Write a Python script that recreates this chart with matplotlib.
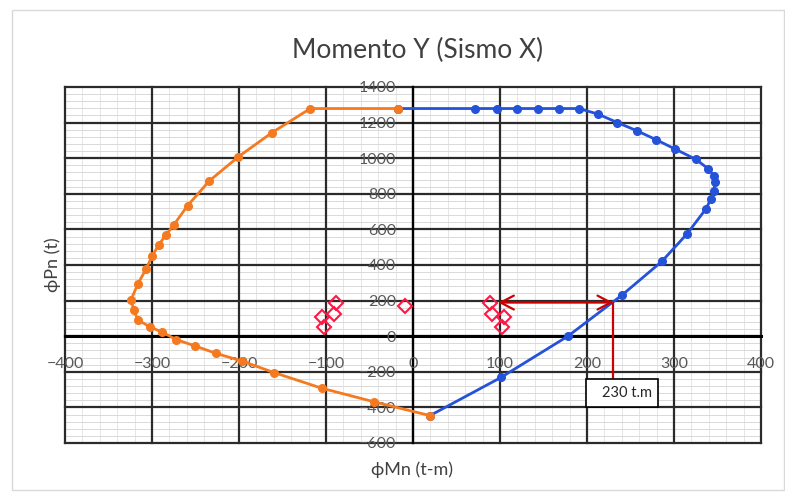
import matplotlib
matplotlib.use("Agg")
import matplotlib.pyplot as plt
from matplotlib.patches import Rectangle
from matplotlib.ticker import MultipleLocator

plt.rcParams['font.family'] = ['Lato', 'DejaVu Sans']

# ---- data ----
blue_m = [-17, 71, 96, 120, 144, 168, 191, 213, 235, 257, 279, 301, 325, 339, 346,
          347, 346, 342, 337, 315, 286, 240, 178, 101, 19.5]
blue_p = [1279, 1279, 1279, 1279, 1279, 1279, 1279, 1247, 1200, 1155, 1105, 1052, 994, 942, 900,
          865, 816, 768, 717, 575, 420, 230, 0, -232, -446]

orange_m = [-17, -118, -162, -201, -234, -259, -275, -284, -292, -300, -307, -316, -324,
            -321, -316, -302, -289, -272, -251, -226, -197, -160, -105, -44.5, 19.5]
orange_p = [1279, 1279, 1144, 1007, 873, 734, 625, 569, 515, 449, 376, 296, 206,
            146, 90, 52, 24, -19, -54, -97, -139, -204, -292, -369, -446]

demand_m = [-88, -91, -105, -102, -9, 88, 91, 105, 102]
demand_p = [184, 124, 109, 49, 169, 184, 124, 109, 49]

arrow_y = 189
arrow_x_start = 98
arrow_x_end = 230
box_label = "230 t.m"

title = "Momento Y (Sismo X)"
xlabel = "\u03d5Mn (t-m)"
ylabel = "\u03d5Pn (t)"
xticks = [-400, -300, -200, -100, 0, 100, 200, 300, 400]
yticks = [-600, -400, -200, 0, 200, 400, 600, 800, 1000, 1200, 1400]
xminor_step = 20
yminor_step = 40

# ---- figure ----
fig = plt.figure(figsize=(7.85, 4.92), dpi=100)
fig.patch.set_facecolor('white')
fig.add_artist(Rectangle((12/785, 2/492), 772/785, 480/492, transform=fig.transFigure,
                         fill=False, edgecolor='#d9d9d9', lw=1))

ax = fig.add_axes([65/785, 1-443/492, 696/785, 356/492])
ax.set_xlim(xticks[0], xticks[-1])
ax.set_ylim(yticks[0], yticks[-1])
ax.set_xticks(xticks)
ax.set_yticks(yticks)

# minor grid (faint)
xm = xticks[0] + xminor_step
while xm < xticks[-1]:
    ax.axvline(xm, color='#e6e6e6', lw=0.7, zorder=0.2)
    xm += xminor_step
ym = yticks[0] + yminor_step
while ym < yticks[-1]:
    ax.axhline(ym, color='#d9d9d9', lw=0.7, zorder=0.2)
    ym += yminor_step
# major grid
for xv in xticks:
    ax.axvline(xv, color='#2b2b2b', lw=1.6, zorder=0.5, clip_on=False)
for yv in yticks:
    ax.axhline(yv, color='#2b2b2b', lw=1.6, zorder=0.5, clip_on=False)

for s in ['top', 'right']:
    ax.spines[s].set_visible(False)
ax.spines['left'].set_position(('data', 0))
ax.spines['bottom'].set_position(('data', 0))
ax.spines['left'].set_color('#000000')
ax.spines['bottom'].set_color('#000000')
ax.spines['left'].set_linewidth(1.6)
ax.spines['bottom'].set_linewidth(2.2)
ax.spines['left'].set_zorder(0.6)
ax.spines['bottom'].set_zorder(0.6)

ax.tick_params(which='both', length=0)
ax.tick_params(axis='x', pad=15, labelsize=11.5, labelcolor='#595959')
ax.tick_params(axis='y', pad=12, labelsize=11.5, labelcolor='#595959')

ax.plot(blue_m, blue_p, color='#2452D8', lw=2, marker='o', ms=5.5, zorder=4)
ax.plot(orange_m, orange_p, color='#F57A1F', lw=2, marker='o', ms=5.5, zorder=5)
ax.plot(demand_m, demand_p, ls='none', marker='D', ms=7, mfc='none', mec='#FF1744',
        mew=1.5, zorder=6)

red = '#CC0000'
ax.annotate('', xy=(arrow_x_start, arrow_y), xytext=(arrow_x_end, arrow_y),
            arrowprops=dict(arrowstyle='<->,head_length=0.95,head_width=0.5',
                            color=red, lw=1.6, shrinkA=0, shrinkB=0), zorder=7)
ax.plot([arrow_x_end, arrow_x_end], [arrow_y, -238], color=red, lw=1.6, zorder=7)
ax.add_patch(Rectangle((198.5, -400), 83.5, 162, facecolor='white', edgecolor='black',
                       lw=1.2, zorder=8))
ax.text(275, -319, box_label, ha='right', va='center', fontsize=10.5, color='#262626',
        zorder=9)

fig.text(418/785, 1-50/492, title, ha='center', va='center', fontsize=19, color='#404040')
fig.text(412/785, 1-470/492, xlabel, ha='center', va='center', fontsize=13, color='#404040')
fig.text(53/785, 1-265/492, ylabel, ha='center', va='center', fontsize=13, color='#404040',
         rotation=90)

fig.savefig('out.png', dpi=100)
